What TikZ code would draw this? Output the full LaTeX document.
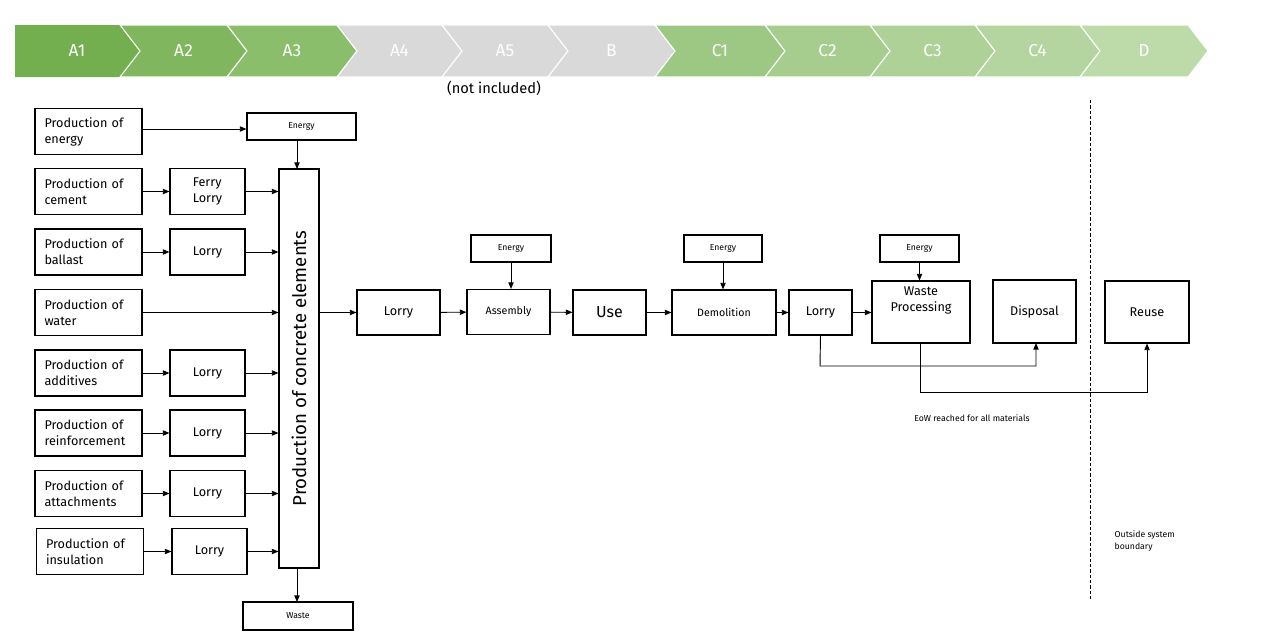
\documentclass[tikz,border=0pt]{standalone}
\usepackage{fontspec}
\setmainfont{Fira Sans}
\usetikzlibrary{arrows.meta}
\begin{document}
\begin{tikzpicture}[x=0.75pt,y=-0.75pt,
 box/.style={draw,line width=0.8pt,inner sep=0pt,align=left},
 cbox/.style={draw,line width=0.8pt,inner sep=0pt,align=center},
 arr/.style={-{Triangle[length=5pt,width=4pt]},line width=0.7pt},
 lbl/.style={white,font=\fontsize{13}{13}\selectfont},
 sz/.style 2 args={minimum width=#1*0.75pt,minimum height=#2*0.75pt}]
\useasboundingbox (0,0) rectangle (1285,639);
\definecolor{ga}{HTML}{73AF4F}\definecolor{gb}{HTML}{80B75E}\definecolor{gc}{HTML}{8BBE6A}
\definecolor{gr}{HTML}{D9D9D9}\definecolor{ca}{HTML}{9DC884}\definecolor{cb}{HTML}{A6CD8E}
\definecolor{cc}{HTML}{ADD197}\definecolor{cd}{HTML}{B4D59F}\definecolor{cdd}{HTML}{BDDAA9}
% banner
\def\chev#1#2#3#4#5{\fill[#3,draw=white,line width=0.8pt] (#1,25) -- (#2-20,25) -- (#2,51) -- (#2-20,77) -- (#1,77) -- (#1+20,51) -- cycle;
 \node[lbl] (#5) at ({(#1+#2)/2},51) {#4};}
\fill[ga] (15,25) -- (120,25) -- (140,51) -- (120,77) -- (15,77) -- cycle;
\node[lbl] (a1) at (77,51) {A1};
\chev{120}{247}{gb}{A2}{a2}
\chev{227}{357}{gc}{A3}{a3}
\chev{337}{462}{gr}{A4}{a4}
\chev{442}{568}{gr}{A5}{a5}
\chev{548}{675}{gr}{B}{b}
\chev{655}{785}{ca}{C1}{c1}
\chev{765}{890}{cb}{C2}{c2}
\chev{870}{995}{cc}{C3}{c3}
\chev{975}{1100}{cd}{C4}{c4}
\chev{1080}{1208}{cdd}{D}{d}
\node[font=\fontsize{11}{11}\selectfont] (ni) at (494,88) {(not included)};
\tikzset{pf/.style={box,sz={107}{46},text width=66pt,font=\fontsize{9.5}{12}\selectfont}}
\tikzset{tr/.style={cbox,sz={75}{46},font=\fontsize{9.5}{12}\selectfont}}
\tikzset{sm/.style={cbox,font=\fontsize{6.5}{8}\selectfont}}
\node[pf] (p1) at (88.5,131.5) {Production of\\energy};
\node[pf] (p2) at (88.5,191.5) {Production of\\cement};
\node[pf] (p3) at (88.5,252) {Production of\\ballast};
\node[pf] (p4) at (88.5,312.5) {Production of\\water};
\node[pf] (p5) at (88.5,373) {Production of\\additives};
\node[pf] (p6) at (88.5,433) {Production of\\reinforcement};
\node[pf] (p7) at (88.5,493.5) {Production of\\attachments};
\node[pf] (p8) at (90,551.5) {Production of\\insulation};
\node[tr,align=left] (t2) at (207.5,191.5) {Ferry\\Lorry};
\node[tr] (t3) at (207.5,252) {Lorry};
\node[tr] (t5) at (207.5,373) {Lorry};
\node[tr] (t6) at (207.5,433) {Lorry};
\node[tr] (t7) at (207.5,493.5) {Lorry};
\node[tr] (t8) at (209.5,551.5) {Lorry};
\node[sm,sz={109}{27}] (en) at (301.5,126.5) {Energy};
\node[sm,sz={110}{28}] (ws) at (298,616) {Waste};
\node[cbox,sz={40}{399}] (pc) at (299,368.5) {};
\node[rotate=90,font=\fontsize{14}{14}\selectfont] (pct) at (299,368.5) {Production of concrete elements};
\draw[arr] (p1.east |- 0,129) -- (en.west |- 0,129);
\draw[arr] (297,140) -- (297,169);
\draw[arr] (297,568) -- (297,602);
\foreach \s/\t in {p2/t2,p3/t3,p5/t5,p6/t6,p7/t7,p8/t8}{\draw[arr] (\s) -- (\t); \draw[arr] (\t) -- (\t -| pc.west);}
\draw[arr] (p4) -- (p4 -| pc.west);
\tikzset{mb/.style={cbox,font=\fontsize{9.5}{12}\selectfont}}
\node[mb,sz={83}{45}] (l1) at (398.5,312.5) {Lorry};
\node[mb,sz={83}{45},font=\fontsize{8}{10}\selectfont] (as) at (508.5,312) {Assembly};
\node[mb,sz={73}{45},font=\fontsize{12}{12}\selectfont] (use) at (609.5,312.5) {Use};
\node[mb,sz={104}{45},font=\fontsize{8}{10}\selectfont] (de) at (724,312.5) {Demolition};
\node[mb,sz={63}{45}] (l2) at (820.5,312.5) {Lorry};
\node[mb,sz={98}{62}] (wp) at (921,312) {Waste\\Processing\\[8pt]};
\node[mb,sz={83}{63}] (dis) at (1034.5,311.5) {Disposal};
\node[mb,sz={84}{62}] (re) at (1147,312) {Reuse};
\node[sm,sz={80}{27}] (e1) at (511,248.5) {Energy};
\node[sm,sz={78}{27}] (e2) at (723,248.5) {Energy};
\node[sm,sz={79}{27}] (e3) at (919.5,248.5) {Energy};
\draw[arr] (pc.east |- l1) -- (l1);
\draw[arr] (l1) -- (as);
\draw[arr] (as) -- (use);
\draw[arr] (use) -- (de);
\draw[arr] (de) -- (l2);
\draw[arr] (l2) -- (l2 -| wp.west);
\draw[arr] (e1) -- (e1 |- as.north);
\draw[arr] (e2) -- (e2 |- de.north);
\draw[arr] (e3) -- (e3 |- wp.north);
\draw[arr] (l2.south) -- (820,366) -- (1036,366) -- (1036,343);
\draw[arr] (920,343) -- (920,392) -- (1147,392) -- (re.south);
\draw[line width=0.7pt,dash pattern=on 2.5pt off 1.5pt] (1090,100) -- (1090,600);
\node[font=\fontsize{6.5}{8}\selectfont] (eow) at (972,418) {EoW reached for all materials};
\node[font=\fontsize{6.5}{9}\selectfont,align=left,anchor=north west] (osb) at (1110,526) {Outside system\\boundary};
\end{tikzpicture}
\end{document}
